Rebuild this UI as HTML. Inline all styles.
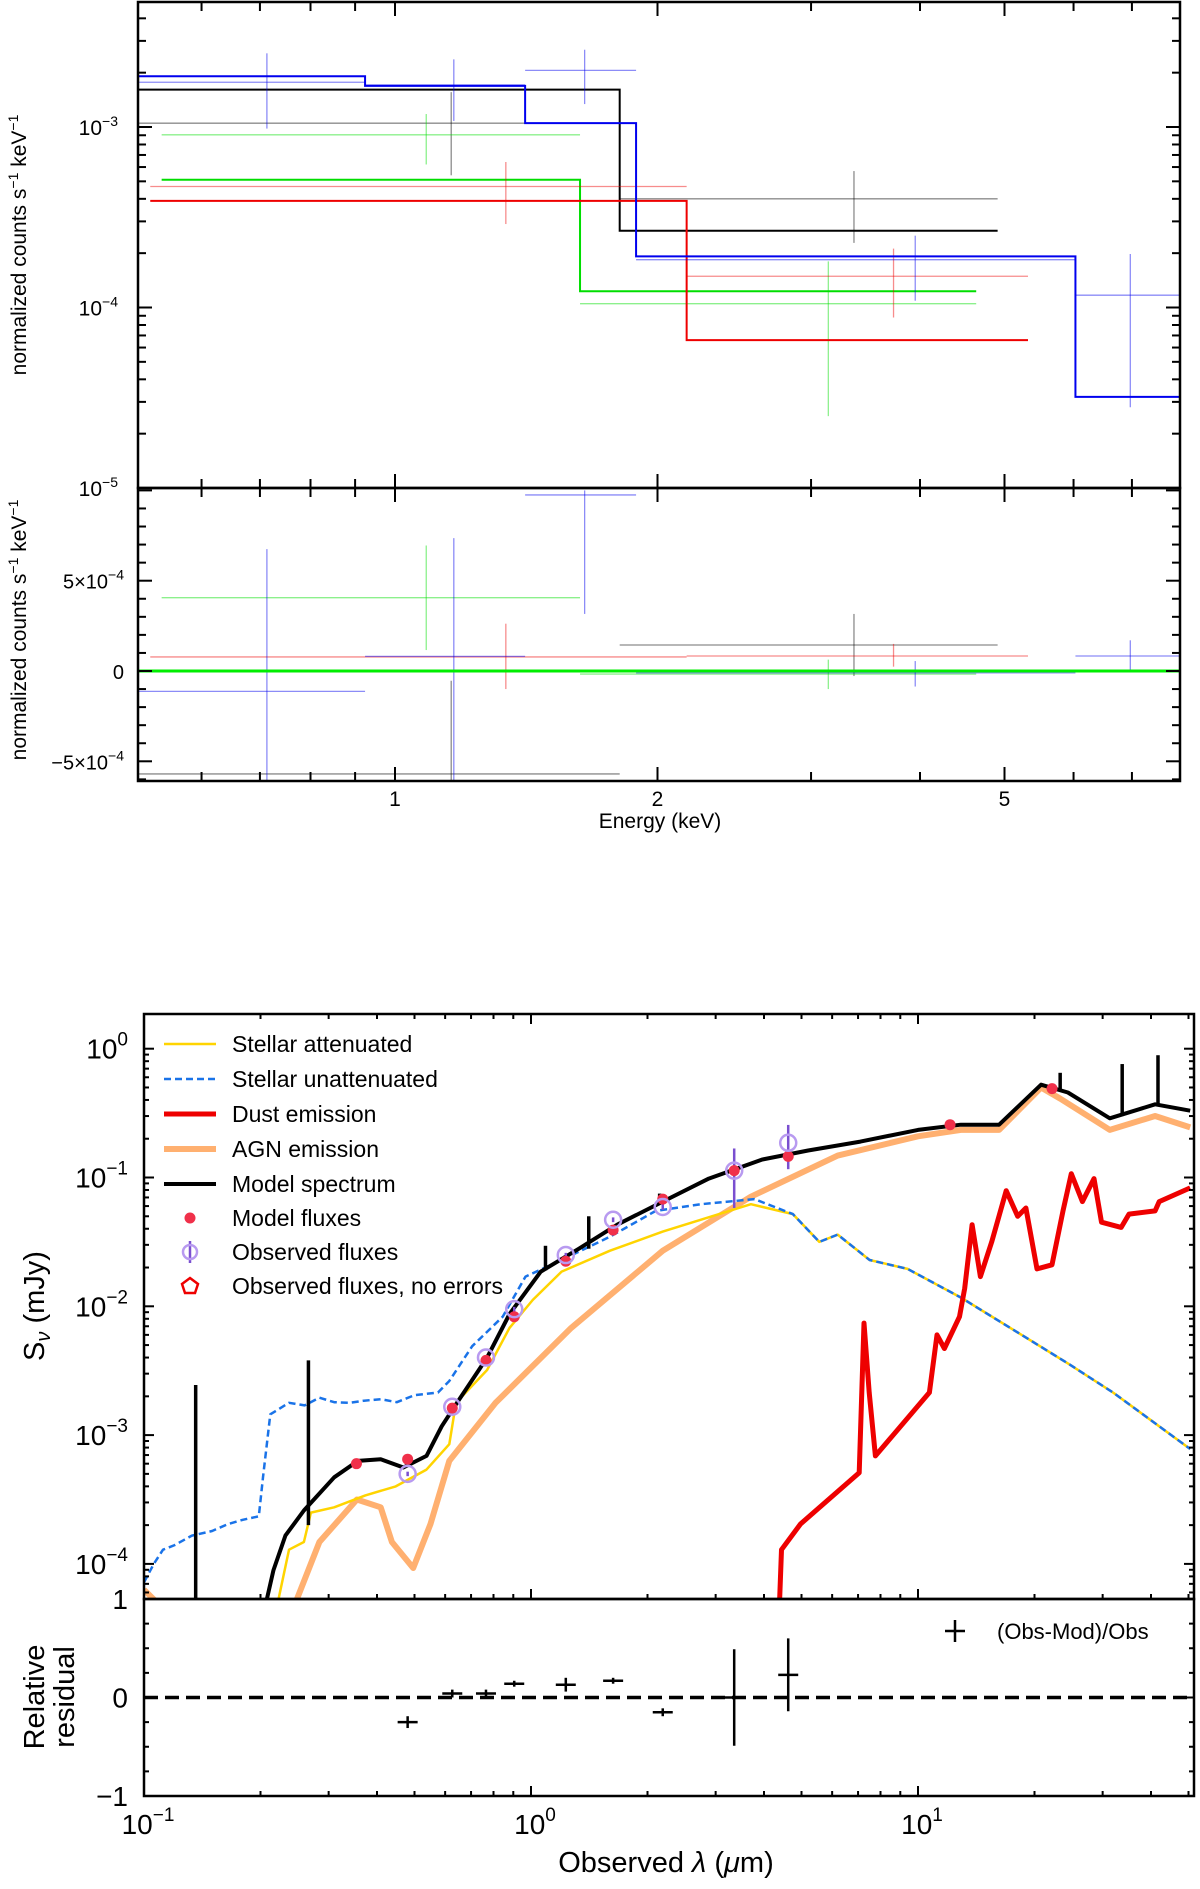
<!DOCTYPE html>
<html><head><meta charset="utf-8">
<style>
html,body{margin:0;padding:0;background:#fff;}
svg{display:block;}
text{font-family:"Liberation Sans","DejaVu Sans",sans-serif;}
</style></head>
<body>
<svg id="fig" width="1200" height="1889" viewBox="0 0 1200 1889" xmlns="http://www.w3.org/2000/svg">
<defs>
<clipPath id="clipTop"><rect x="138" y="2" width="1042" height="486"/></clipPath>
<clipPath id="clipRes"><rect x="138" y="488" width="1042" height="293"/></clipPath>
<clipPath id="clipSed"><rect x="144" y="1014" width="1050" height="585"/></clipPath>
<clipPath id="clipSedRes"><rect x="144" y="1599" width="1050" height="197"/></clipPath>
</defs>
<g id="xray"></g>
<g id="sed"></g>
</svg>
<script>
// ===== X-ray spectrum data =====
const blueEdges=[0.508,0.924,1.41,1.89,6.03,7.95];
const blueModel=[1.91e-3,1.69e-3,1.05e-3,1.92e-4,3.2e-5];
const blackEdges=[0.508,1.81,4.91];
const blackModel=[1.61e-3,2.66e-4];
const greenEdges=[0.54,1.63,4.64];
const greenModel=[5.1e-4,1.23e-4];
const redEdges=[0.524,2.16,5.32];
const redModel=[3.9e-4,6.6e-5];
const blueCenters=[0.713,1.168,1.65,3.95,6.97];
const blueData=[1.77e-3,1.71e-3,2.06e-3,1.84e-4,1.17e-4];
const blueHi=[2.56e-3,2.37e-3,2.68e-3,2.5e-4,1.98e-4];
const blueLo=[9.8e-4,1.08e-3,1.34e-3,1.09e-4,2.8e-5];
const blackCenters=[1.16,3.36];
const blackData=[1.05e-3,4.0e-4];
const blackHi=[1.56e-3,5.7e-4];
const blackLo=[5.4e-4,2.28e-4];
const greenCenters=[1.086,3.14];
const greenData=[9.05e-4,1.05e-4];
const greenHi=[1.18e-3,1.8e-4];
const greenLo=[6.2e-4,2.5e-5];
const redCenters=[1.34,3.73];
const redData=[4.68e-4,1.49e-4];
const redHi=[6.4e-4,2.12e-4];
const redLo=[2.9e-4,8.8e-5];
const blueRes=[-1.13e-4,8.1e-5,9.75e-4,-1e-5,8.3e-5];
const blueResHi=[6.75e-4,7.36e-4,1.0e-3,5.5e-5,1.7e-4];
const blueResLo=[-7e-4,-7e-4,3.16e-4,-8.6e-5,0];
const blackRes=[-5.7e-4,1.44e-4];
const blackResHi=[-5.4e-5,3.16e-4];
const blackResLo=[-7e-4,-2.8e-5];
const greenRes=[4.06e-4,-1.7e-5];
const greenResHi=[6.95e-4,6.3e-5];
const greenResLo=[1.16e-4,-1.0e-4];
const redRes=[7.8e-5,8.3e-5];
const redResHi=[2.62e-4,1.5e-4];
const redResLo=[-1e-4,2.4e-5];
const xrayXTicks=[0.6,0.7,0.8,0.9,1,2,3,4,5,6,7];
const xrayXLabels=[1,2,5];
const resYLabels=[-5e-4,0,5e-4];

// ===== SED data =====
const agnLam=[0.1,0.112,0.243,0.284,0.355,0.409,0.437,0.496,0.55,0.615,0.81,1.27,2.19,3.7,6.2,10,12.9,16.2,20.8,23.3,31.3,41,50.5];
const agnFlux=[6.3e-5,4.5e-5,4.5e-5,1.48e-4,3.16e-4,2.75e-4,1.48e-4,9.3e-5,2.04e-4,6.3e-4,1.78e-3,6.8e-3,2.7e-2,7.1e-2,0.148,0.209,0.234,0.234,0.50,0.41,0.234,0.30,0.245];
const unattLam=[0.1,0.106,0.112,0.12,0.133,0.15,0.165,0.18,0.198,0.203,0.212,0.237,0.26,0.284,0.31,0.34,0.37,0.409,0.45,0.5,0.575,0.615,0.705,0.845,0.968,1.2,1.6,2.1,2.75,3.78,4.75,5.56,6.2,7.5,9.4,12.9,19.4,24.4,31.9,50.5];
const unattFlux=[7.2e-5,1.0e-4,1.29e-4,1.4e-4,1.66e-4,1.8e-4,2.04e-4,2.2e-4,2.34e-4,4.7e-4,1.45e-3,1.78e-3,1.7e-3,1.95e-3,1.8e-3,1.78e-3,1.85e-3,1.9e-3,1.8e-3,2.04e-3,2.14e-3,2.63e-3,4.9e-3,8.3e-3,1.7e-2,2.29e-2,3.47e-2,5.5e-2,6.2e-2,6.8e-2,5.2e-2,3.16e-2,3.6e-2,2.29e-2,1.95e-2,1.17e-2,5.5e-3,3.6e-3,2.14e-3,7.8e-4];
const attLam=[0.222,0.237,0.259,0.27,0.31,0.373,0.447,0.537,0.615,0.64,0.77,0.88,1.01,1.2,1.6,2.19,2.75,3.7,4.75,5.56,6.2,7.5,9.4,12.9,19.4,24.4,31.9,50.5];
const attFlux=[5.1e-5,1.29e-4,1.48e-4,2.5e-4,2.75e-4,3.4e-4,4.0e-4,5.4e-4,8.5e-4,1.78e-3,3.2e-3,6.8e-3,1.12e-2,1.86e-2,2.7e-2,3.8e-2,4.7e-2,6.2e-2,5.2e-2,3.16e-2,3.6e-2,2.29e-2,1.95e-2,1.17e-2,5.5e-3,3.6e-3,2.14e-3,7.8e-4];
const modelLam=[0.207,0.216,0.232,0.259,0.31,0.357,0.409,0.468,0.537,0.588,0.644,0.77,0.88,1.06,1.33,1.67,2.19,2.88,3.96,5.2,7.1,10,12.9,16.2,20.8,24.4,31.3,41,50.5];
const modelFlux=[5.1e-5,8.9e-5,1.66e-4,2.6e-4,4.7e-4,6.3e-4,6.5e-4,5.6e-4,6.9e-4,1.17e-3,1.78e-3,4.0e-3,8.7e-3,1.86e-2,2.8e-2,4.3e-2,6.5e-2,9.8e-2,0.138,0.162,0.19,0.234,0.257,0.257,0.525,0.457,0.288,0.37,0.33];
const spikeLam=[0.136,0.266,1.09,1.41,2.15,23.3,33.7,41.7];
const spikeTop=[2.45e-3,3.8e-3,2.95e-2,5.0e-2,7.5e-2,0.65,0.76,0.89];
const spikeBase=[4e-5,2.0e-4,1.9e-2,2.8e-2,6.3e-2,0.47,0.30,0.37];
const dustLam=[4.38,4.44,4.97,7.05,7.25,7.48,7.76,10.7,11.2,11.7,12.8,13.2,13.8,14.5,15.5,16.9,18.1,19.0,20.3,22.2,23.7,24.9,26.6,28.5,29.8,33.5,35.1,41,42,50.5];
const dustFlux=[4.5e-5,1.29e-4,2.04e-4,5.1e-4,7.4e-3,2.14e-3,6.9e-4,2.14e-3,6.0e-3,4.7e-3,8.3e-3,1.38e-2,4.3e-2,1.7e-2,3.16e-2,7.9e-2,5.0e-2,5.8e-2,1.95e-2,2.1e-2,5.5e-2,0.107,6.5e-2,9.8e-2,4.5e-2,4.1e-2,5.2e-2,5.5e-2,6.5e-2,8.3e-2];
const modFluxLam=[0.354,0.48,0.626,0.765,0.905,1.23,1.63,2.19,3.35,4.62,12.1,22.2];
const modFluxVal=[6.0e-4,6.5e-4,1.62e-3,3.8e-3,8.3e-3,2.24e-2,3.9e-2,6.8e-2,0.113,0.146,0.257,0.49];
const obsLam=[0.48,0.626,0.765,0.905,1.23,1.63,2.19,3.35,4.62];
const obsVal=[5.0e-4,1.66e-3,4.0e-3,9.5e-3,2.5e-2,4.7e-2,5.9e-2,0.113,0.186];
const obsErr=[2e-5,6e-5,1.5e-4,4e-4,1e-3,2e-3,3e-3,5.5e-2,7e-2];
const residVal=[-0.25,0.04,0.04,0.14,0.13,0.17,-0.15,0.0,0.23];
const residErr=[0.06,0.04,0.04,0.03,0.07,0.03,0.04,0.49,0.37];
const sedYTickExp=[0,-1,-2,-3,-4];
const sedXTickExp=[-1,0,1];
const sedResTicks=[1,0,-1];

const NS='http://www.w3.org/2000/svg';
function mk(parent,tag,attrs){const e=document.createElementNS(NS,tag);for(const k in attrs)e.setAttribute(k,attrs[k]);parent.appendChild(e);return e;}

// ---------- X-ray chart ----------
const xr=document.getElementById('xray');
const XL=138,XR=1180,XT=2,XM=488,XB=781;
const ex=E=>395+Math.log10(E)*872;
const ey=v=>127-(Math.log10(v)+3)*180.5;
const ry=v=>671-v*180600;
function stepPath(edges,vals){let d='';for(let i=0;i<vals.length;i++){const y=ey(vals[i]);d+=(i?'L':'M')+ex(edges[i])+' '+y+'L'+ex(edges[i+1])+' '+y;}return d;}

const topG=mk(xr,'g',{'clip-path':'url(#clipTop)'});


const resG=mk(xr,'g',{'clip-path':'url(#clipRes)'});



function drawXData(name,color,edges,centers,vals,hi,lo,yf,g,op){
  for(let i=0;i<centers.length;i++){
    const y=yf(vals[i]);
    const h=mk(g,'line',{x1:ex(edges[i]),x2:ex(edges[i+1]),y1:y,y2:y,stroke:color,'stroke-width':1.3,'stroke-opacity':op});
    
    
    const v=mk(g,'line',{x1:ex(centers[i]),x2:ex(centers[i]),y1:yf(hi[i]),y2:yf(lo[i]),stroke:color,'stroke-width':1.3,'stroke-opacity':op});
    
    
  }
}
const series=[
 ['black','#000',blackEdges,blackModel,blackCenters,blackData,blackHi,blackLo,blackRes,blackResHi,blackResLo],
 ['green','#00dd00',greenEdges,greenModel,greenCenters,greenData,greenHi,greenLo,greenRes,greenResHi,greenResLo],
 ['red','#ee0000',redEdges,redModel,redCenters,redData,redHi,redLo,redRes,redResHi,redResLo],
 ['blue','#0000ee',blueEdges,blueModel,blueCenters,blueData,blueHi,blueLo,blueRes,blueResHi,blueResLo]
];
series.forEach(s=>{
  drawXData(s[0],s[1],s[2],s[4],s[5],s[6],s[7],ey,topG,0.45);
  const p=mk(topG,'path',{d:stepPath(s[2],s[3]),fill:'none',stroke:s[1],'stroke-width':2});
  
  
  drawXData(s[0]+'-residual',s[1],s[2],s[4],s[8],s[9],s[10],ry,resG,0.45);
});
const zl=mk(resG,'line',{x1:XL,x2:XR,y1:ry(0),y2:ry(0),stroke:'#00ee00','stroke-width':3});



const f1=mk(xr,'rect',{x:XL,y:XT,width:XR-XL,height:XM-XT,fill:'none',stroke:'#000','stroke-width':2.5});


const f2=mk(xr,'rect',{x:XL,y:XM,width:XR-XL,height:XB-XM,fill:'none',stroke:'#000','stroke-width':2.5});


xrayXTicks.forEach(E=>{
  const x=ex(E),L=(E===1||E===2||E===5)?14:9;
  [[XT,XT+L],[XM,XM-L],[XM,XM+L],[XB,XB-L]].forEach(p=>{
    const t=mk(xr,'line',{x1:x,x2:x,y1:p[0],y2:p[1],stroke:'#000','stroke-width':2});
    
    
  });
});
xrayXLabels.forEach(E=>{
  const t=mk(xr,'text',{x:ex(E),y:806,'font-size':21,'text-anchor':'middle'});t.textContent=E;
  
  
});
for(let d=-5;d<=-3;d++){for(let m=1;m<10;m++){const v=m*Math.pow(10,d);const y=ey(v);if(y<XT||y>XM)continue;const L=m===1?14:8;
  [[XL,XL+L],[XR,XR-L]].forEach(p=>{const t=mk(xr,'line',{x1:p[0],x2:p[1],y1:y,y2:y,stroke:'#000','stroke-width':2});
  
  });}}
[[-3,127],[-4,307.5],[-5,488]].forEach(a=>{
  const t=mk(xr,'text',{x:118,y:a[1]+8,'font-size':21,'text-anchor':'end'});
  t.textContent='10';
  const s=mk(t,'tspan',{dy:-9,'font-size':14});s.textContent='−'+(-a[0]);
  
  
});
for(let k=-6;k<=10;k++){const v=k*1e-4;const y=ry(v);if(y<XM||y>XB)continue;const L=(k%5===0)?14:8;
  [[XL,XL+L],[XR,XR-L]].forEach(p=>{const t=mk(xr,'line',{x1:p[0],x2:p[1],y1:y,y2:y,stroke:'#000','stroke-width':2});
  
  });}
resYLabels.forEach(v=>{
  const t=mk(xr,'text',{x:124,y:ry(v)+8,'font-size':20,'text-anchor':'end'});
  if(v===0)t.textContent='0';else{t.textContent=(v<0?'−':'')+'5×10';const s=mk(t,'tspan',{dy:-9,'font-size':14});s.textContent='−4';}
  
  
});
function ylab(g,x,y,name){const t=mk(g,'text',{x:0,y:0,'font-size':21,'text-anchor':'middle',transform:`translate(${x},${y}) rotate(-90)`});
  t.textContent='normalized counts s';const a=mk(t,'tspan',{dy:-8,'font-size':14});a.textContent='−1';const b=mk(t,'tspan',{dy:8});b.textContent=' keV';const c=mk(t,'tspan',{dy:-8,'font-size':14});c.textContent='−1';
  
  }
ylab(xr,26,245,'xray-y-axis-title');
ylab(xr,26,630,'xray-residual-y-axis-title');
const xt=mk(xr,'text',{x:660,y:828,'font-size':21,'text-anchor':'middle'});xt.textContent='Energy (keV)';



// ---------- SED chart ----------
const sd=document.getElementById('sed');
const SL=144,SR=1194,ST=1014,SM=1599,SB=1796;
const sx=l=>144+(Math.log10(l)+1)*387;
const sy=v=>1048.7-Math.log10(v)*128.8;
const sry=v=>1697.5-v*98.5;
const pathOf=(L,F)=>L.map((l,i)=>(i?'L':'M')+sx(l).toFixed(1)+' '+sy(F[i]).toFixed(1)).join('');
const sg=mk(sd,'g',{'clip-path':'url(#clipSed)'});


const curves=[
 ['agn-emission-curve',agnLam,agnFlux,'#ffb070',6,null],
 ['stellar-attenuated-curve',attLam,attFlux,'#ffd400',2.5,null],
 ['stellar-unattenuated-curve',unattLam,unattFlux,'#1a73e8',2.5,'7 4'],
 ['dust-emission-curve',dustLam,dustFlux,'#ee0000',5,null],
 ['model-spectrum-curve',modelLam,modelFlux,'#000',4,null]
];
curves.forEach(c=>{const a={d:pathOf(c[1],c[2]),fill:'none',stroke:c[3],'stroke-width':c[4],'stroke-linejoin':'round'};if(c[5])a['stroke-dasharray']=c[5];
  const p=mk(sg,'path',a);
  
  });
spikeLam.forEach((l,i)=>{const p=mk(sg,'line',{x1:sx(l),x2:sx(l),y1:sy(spikeBase[i]),y2:sy(spikeTop[i]),stroke:'#000','stroke-width':3.5});
  
  });
obsLam.forEach((l,i)=>{
  const e=mk(sg,'line',{x1:sx(l),x2:sx(l),y1:sy(obsVal[i]+obsErr[i]),y2:sy(Math.max(obsVal[i]-obsErr[i],1e-6)),stroke:'#7a4fd0','stroke-width':2.5});
  
  
});
modFluxLam.forEach((l,i)=>{const c=mk(sg,'circle',{cx:sx(l),cy:sy(modFluxVal[i]),r:5.5,fill:'#f0304a'});
  
  });
obsLam.forEach((l,i)=>{const c=mk(sg,'circle',{cx:sx(l),cy:sy(obsVal[i]),r:8,fill:'none',stroke:'#b89af0','stroke-width':2.5});
  
  });
const rg=mk(sd,'g',{'clip-path':'url(#clipSedRes)'});


const dl=mk(rg,'line',{x1:SL,x2:SR,y1:sry(0),y2:sry(0),stroke:'#000','stroke-width':3.5,'stroke-dasharray':'14 7'});


obsLam.forEach((l,i)=>{const x=sx(l),y=sry(residVal[i]);
  const a=mk(rg,'line',{x1:x-10,x2:x+10,y1:y,y2:y,stroke:'#000','stroke-width':2.5});
  
  
  const b=mk(rg,'line',{x1:x,x2:x,y1:sry(residVal[i]+residErr[i]),y2:sry(residVal[i]-residErr[i]),stroke:'#000','stroke-width':2.5});
  
  });
const sf1=mk(sd,'rect',{x:SL,y:ST,width:SR-SL,height:SM-ST,fill:'none',stroke:'#000','stroke-width':2.5});


const sf2=mk(sd,'rect',{x:SL,y:SM,width:SR-SL,height:SB-SM,fill:'none',stroke:'#000','stroke-width':2.5});


for(let d=-5;d<=0;d++){for(let m=1;m<10;m++){const v=m*Math.pow(10,d);const y=sy(v);if(y<ST||y>SM)continue;const L=m===1?10:5;
  [[SL,SL+L],[SR,SR-L]].forEach(p=>{const t=mk(sd,'line',{x1:p[0],x2:p[1],y1:y,y2:y,stroke:'#000','stroke-width':2});
  
  });}}
sedYTickExp.forEach(e=>{const t=mk(sd,'text',{x:128,y:sy(Math.pow(10,e))+10,'font-size':28,'text-anchor':'end'});
  t.textContent='10';const s=mk(t,'tspan',{dy:-13,'font-size':19});s.textContent=e===0?'0':'−'+(-e);
  
  });
for(let d=-1;d<=1;d++){for(let m=1;m<10;m++){const l=m*Math.pow(10,d);const x=sx(l);if(x<SL||x>SR)continue;const L=m===1?10:5;
  [[SB,SB-L],[SM,SM-L],[ST,ST+L]].forEach(p=>{const t=mk(sd,'line',{x1:x,x2:x,y1:p[0],y2:p[1],stroke:'#000','stroke-width':2});
  
  });}}
sedXTickExp.forEach(e=>{const t=mk(sd,'text',{x:sx(Math.pow(10,e))+4,y:1834,'font-size':28,'text-anchor':'middle'});
  t.textContent='10';const s=mk(t,'tspan',{dy:-13,'font-size':19});s.textContent=e===0?'0':(e<0?'−1':'1');
  
  });
for(let v=-1;v<=1.001;v+=0.25){const y=sry(v);const L=Math.abs(v%1)<1e-6||Math.abs(Math.abs(v)-1)<1e-6?10:5;
  [[SL,SL+L],[SR,SR-L]].forEach(p=>{const t=mk(sd,'line',{x1:p[0],x2:p[1],y1:y,y2:y,stroke:'#000','stroke-width':2});
  
  });}
sedResTicks.forEach(v=>{const t=mk(sd,'text',{x:128,y:sry(v)+10,'font-size':28,'text-anchor':'end'});t.textContent=v<0?'−1':String(v);
  
  });
const leg=mk(sd,'g',{});


const legItems=[['Stellar attenuated','line','#ffd400',2.5,null],['Stellar unattenuated','line','#1a73e8',2.5,'7 4'],['Dust emission','line','#ee0000',5,null],['AGN emission','line','#ffb070',6,null],['Model spectrum','line','#000',4,null],['Model fluxes','dot'],['Observed fluxes','obs'],['Observed fluxes, no errors','pent']];
const legY=[1044,1079,1114,1149,1184,1218,1252,1286];
legItems.forEach((it,i)=>{const y=legY[i];
  if(it[1]==='line'){const a={x1:164,x2:216,y1:y,y2:y,stroke:it[2],'stroke-width':it[3]};if(it[4])a['stroke-dasharray']=it[4];const l=mk(leg,'line',a);
    
    }
  else if(it[1]==='dot'){const c=mk(leg,'circle',{cx:190,cy:y,r:5.5,fill:'#f0304a'});
    
    }
  else if(it[1]==='obs'){mk(leg,'line',{x1:190,x2:190,y1:y-11,y2:y+11,stroke:'#7a4fd0','stroke-width':2.5});const c=mk(leg,'circle',{cx:190,cy:y,r:7,fill:'none',stroke:'#b89af0','stroke-width':2.5});
    
    }
  else {const p=mk(leg,'polygon',{points:`190,${y-8} 198,${y-2} 195,${y+7} 185,${y+7} 182,${y-2}`,fill:'none',stroke:'#ee0000','stroke-width':2.5});
    
    }
  const t=mk(leg,'text',{x:232,y:y+8,'font-size':23});t.textContent=it[0];
  
  
});
mk(sd,'line',{x1:945,x2:965,y1:1631,y2:1631,stroke:'#000','stroke-width':2.5});
mk(sd,'line',{x1:955,x2:955,y1:1620,y2:1642,stroke:'#000','stroke-width':2.5});
const rlt=mk(sd,'text',{x:997,y:1639,'font-size':22});rlt.textContent='(Obs-Mod)/Obs';


const syt=mk(sd,'text',{x:0,y:0,'font-size':29,'text-anchor':'middle',transform:'translate(44,1306) rotate(-90)'});
syt.textContent='S';const sub=mk(syt,'tspan',{dy:6,'font-size':20,'font-style':'italic'});sub.textContent='ν';const rest=mk(syt,'tspan',{dy:-6});rest.textContent=' (mJy)';


const r1=mk(sd,'text',{x:0,y:0,'font-size':29,'text-anchor':'middle',transform:'translate(44,1697) rotate(-90)'});r1.textContent='Relative';


const r2=mk(sd,'text',{x:0,y:0,'font-size':29,'text-anchor':'middle',transform:'translate(74,1697) rotate(-90)'});r2.textContent='residual';


const sxt=mk(sd,'text',{x:666,y:1872,'font-size':29,'text-anchor':'middle'});
sxt.textContent='Observed ';const lm=mk(sxt,'tspan',{'font-style':'italic'});lm.textContent='λ';const r3=mk(sxt,'tspan',{});r3.textContent=' (';const mu=mk(sxt,'tspan',{'font-style':'italic'});mu.textContent='μ';const r4=mk(sxt,'tspan',{});r4.textContent='m)';


</script>
</body></html>
